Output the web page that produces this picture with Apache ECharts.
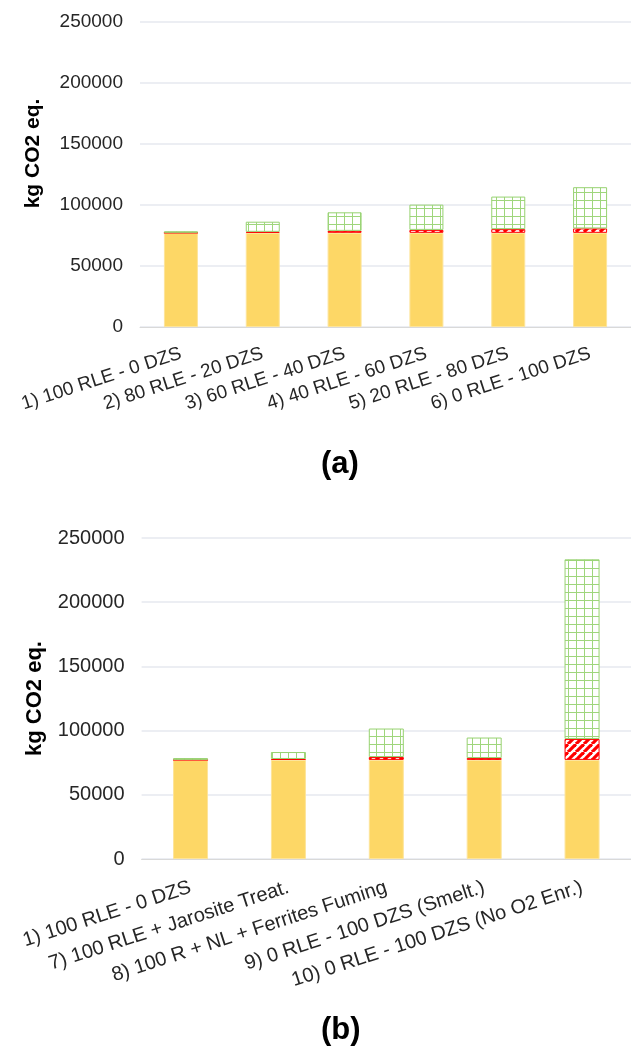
<!DOCTYPE html>
<html>
<head>
<meta charset="utf-8">
<script src="https://cdn.jsdelivr.net/npm/echarts@6/dist/echarts.min.js"></script>
<style>
html,body{margin:0;padding:0;background:#fff;}
#c{width:631px;height:1048px;}
</style>
</head>
<body>
<div id="c"></div>
<script>
// ---- data ----
const categoriesA = ['1) 100 RLE - 0 DZS', '2) 80 RLE - 20 DZS', '3) 60 RLE - 40 DZS', '4) 40 RLE - 60 DZS', '5) 20 RLE - 80 DZS', '6) 0 RLE - 100 DZS'];
const baseA  = [77200, 77200, 77200, 77200, 77200, 77200];
const hatchA = [0, 800, 1600, 2400, 3000, 3600];
const gridA  = [1300, 8300, 15200, 20700, 26700, 33800];

const categoriesB = ['1) 100 RLE - 0 DZS', '7) 100 RLE + Jarosite Treat.', '8) 100 R + NL + Ferrites Fuming', '9) 0 RLE - 100 DZS (Smelt.)', '10) 0 RLE - 100 DZS (No O2 Enr.)'];
const baseB  = [77200, 77200, 77200, 77200, 77200];
const hatchB = [0, 700, 2200, 1400, 16300];
const gridB  = [1400, 5400, 22200, 16000, 139900];

const yTicks = [0, 50000, 100000, 150000, 200000, 250000];
const yName = 'kg CO2 eq.';
const titleA = '(a)';
const titleB = '(b)';

// ---- patterns ----
function gridPattern() {
  const c = document.createElement('canvas');
  c.width = 8; c.height = 8;
  const g = c.getContext('2d');
  g.fillStyle = '#ffffff'; g.fillRect(0, 0, 8, 8);
  g.fillStyle = '#9fd67c';
  g.fillRect(0, 0, 8, 1);
  g.fillRect(0, 0, 1, 8);
  return c;
}
function hatchPattern() {
  const s = 8;
  const c = document.createElement('canvas');
  c.width = s; c.height = s;
  const g = c.getContext('2d');
  g.fillStyle = '#ffffff'; g.fillRect(0, 0, s, s);
  g.strokeStyle = '#ff0000'; g.lineWidth = 3.2;
  for (const o of [-s, 0, s]) {
    g.beginPath(); g.moveTo(o, s); g.lineTo(o + s, 0); g.stroke();
  }
  return c;
}
const gridFill = { image: gridPattern(), repeat: 'repeat' };
const hatchFill = { image: hatchPattern(), repeat: 'repeat' };

const FONT = 'Liberation Sans, Arial, sans-serif';
const yellow = '#fdd766';

function xAxisFor(idx, cats, fs, margin) {
  return {
    type: 'category', gridIndex: idx, data: cats,
    axisLine: { lineStyle: { color: '#d9d9d9', width: 1 } },
    axisTick: { show: false },
    axisLabel: { interval: 0, rotate: 18, margin: margin, fontSize: fs, color: '#262626', fontFamily: FONT }
  };
}
function yAxisFor(idx, shiftUp, fs, nfs) {
  return {
    type: 'value', gridIndex: idx, min: yTicks[0], max: yTicks[yTicks.length - 1],
    interval: yTicks[1] - yTicks[0],
    name: yName, nameLocation: 'middle', nameGap: 96,
    nameTextStyle: { fontSize: nfs, fontWeight: 'bold', color: '#000', fontFamily: FONT, padding: [0, 0, 0, shiftUp * 2] },
    axisLine: { show: false }, axisTick: { show: false },
    axisLabel: { fontSize: fs, color: '#262626', margin: 17, fontFamily: FONT, formatter: v => String(v) },
    splitLine: { lineStyle: { color: '#e6e9ef', width: 1.5 } }
  };
}
function barSeries(xi, data, kind, width) {
  const s = { type: 'bar', xAxisIndex: xi, yAxisIndex: xi, stack: 's' + xi, data: data, barWidth: width, animation: false };
  if (kind === 'base') s.itemStyle = { color: yellow, borderColor: '#fde49a', borderWidth: 1 };
  if (kind === 'hatch') s.itemStyle = { color: hatchFill, borderColor: '#ff0000', borderWidth: 1 };
  if (kind === 'grid') s.itemStyle = { color: gridFill, borderColor: '#97d270', borderWidth: 1 };
  return s;
}

const chart = echarts.init(document.getElementById('c'), null, { renderer: 'canvas' });
chart.setOption({
  backgroundColor: '#ffffff',
  animation: false,
  title: [
    { text: titleA, left: 316, top: 444, textStyle: { fontSize: 31, fontWeight: 'bold', color: '#000', fontFamily: FONT } },
    { text: titleB, left: 316, top: 1010, textStyle: { fontSize: 31, fontWeight: 'bold', color: '#000', fontFamily: FONT } }
  ],
  grid: [
    { left: 140, top: 22, width: 493, height: 305 },
    { left: 141.6, top: 538, width: 492, height: 321 }
  ],
  xAxis: [xAxisFor(0, categoriesA, 19, 26), xAxisFor(1, categoriesB, 20, 28)],
  yAxis: [yAxisFor(0, 21, 19, 21), yAxisFor(1, 0, 20, 22)],
  series: [
    barSeries(0, baseA, 'base', 34),
    barSeries(0, hatchA, 'hatch', 34),
    barSeries(0, gridA, 'grid', 34),
    barSeries(1, baseB, 'base', 35),
    barSeries(1, hatchB, 'hatch', 35),
    barSeries(1, gridB, 'grid', 35)
  ]
});
</script>
</body>
</html>
